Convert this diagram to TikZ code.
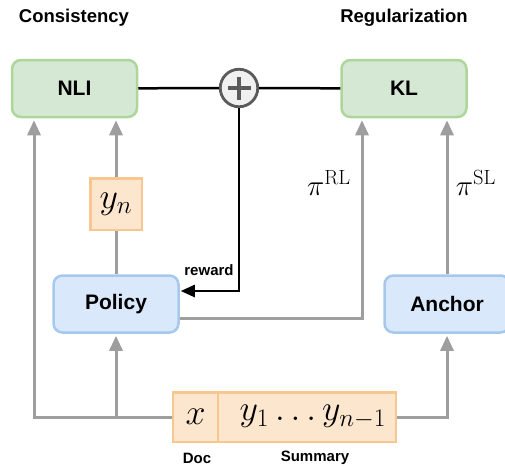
\RequirePackage{fix-cm}
\documentclass[tikz,border=0pt]{standalone}
\usepackage[no-math]{fontspec}
\usepackage{graphicx}
\setmainfont{Liberation Sans}
\usetikzlibrary{arrows.meta}
\DeclareMathSizes{27}{27}{19}{14}
\definecolor{gfill}{HTML}{D5E8D4}
\definecolor{gdraw}{HTML}{ADD69B}
\definecolor{bfill}{HTML}{DAE8FC}
\definecolor{bdraw}{HTML}{A6C8EC}
\definecolor{ofill}{HTML}{FDE6CE}
\definecolor{odraw}{HTML}{F8C78F}
\definecolor{linegray}{HTML}{9E9E9E}
\definecolor{plusgray}{HTML}{5A5A5A}
\definecolor{plusfill}{HTML}{F0F0F0}
\newcommand{\boxmathscale}[1]{\scalebox{1.33}{#1}}
\begin{document}
\begin{tikzpicture}[x=1pt,y=-1pt,
  box/.style={rounded corners=9pt, line width=2.5pt, minimum width=125pt, minimum height=57pt,
    font=\fontsize{21}{24}\selectfont\bfseries, inner sep=0pt},
  gbox/.style={box, fill=gfill, draw=gdraw},
  bbox/.style={box, fill=bfill, draw=bdraw},
  obox/.style={fill=ofill, draw=odraw, line width=2.5pt, inner sep=0pt,
    font=\fontsize{27}{29}\selectfont},
  grayline/.style={draw=linegray, line width=3pt},
  grayarrow/.style={grayline, -{Triangle[width=13pt,length=15pt]}, shorten >=2pt},
  blackline/.style={draw=black, line width=2.5pt},
  blackarrow/.style={blackline, -{Triangle[width=12pt,length=14pt]}, shorten >=1pt},
  head/.style={font=\fontsize{18.5}{20}\selectfont\bfseries},
  small/.style={font=\fontsize{15}{17}\selectfont\bfseries},
  mathlbl/.style={font=\fontsize{27}{29}\selectfont, inner sep=0pt},
  plusbar/.style={draw=plusgray, line width=3.2pt}]
\useasboundingbox (0,0) rectangle (505,466);

% headers
\node[head] (hcons) at (74,18) {Consistency};
\node[head] (hreg) at (404,18) {Regularization};

% boxes
\node[gbox] (nli) at (74.5,88.5) {NLI};
\node[gbox] (kl) at (404,88.5) {KL};
\node[bbox] (pol) at (116,304) {Policy};
\node[bbox] (anc) at (447,304) {Anchor};
\node[obox, minimum size=51.5pt] (yn) at (116,204) {\boxmathscale{$y_n$}};
\node[obox, minimum width=44.75pt, minimum height=49.5pt] (xc) at (195.6,417) {\boxmathscale{$x$}};
\node[obox, minimum width=177.75pt, minimum height=49.5pt] (yc) at (306.9,417) {\hspace*{12pt}\boxmathscale{$y_1\ldots y_{n-1}$}};

% sum node
\node[circle, draw=plusgray, fill=plusfill, line width=2.8pt, minimum size=37.5pt, inner sep=0pt] (sum) at (239,88) {};
\draw[plusbar] ([xshift=-11.5pt]sum.center) -- ([xshift=11.5pt]sum.center);
\draw[plusbar] ([yshift=-11.5pt]sum.center) -- ([yshift=11.5pt]sum.center);

% labels
\node[small] (rw) at (209,270) {reward};
\node[small] (doc) at (197,458) {Doc};
\node[small] (sumlbl) at (315,458) {Summary};
\node[mathlbl] (pirl) at (329,183) {\scalebox{1.08}{$\pi^{\mathrm{RL}}$}};
\node[mathlbl] (pisl) at (476,183) {\scalebox{1.08}{$\pi^{\mathrm{SL}}$}};

% black connectors
\draw[blackline] (nli) -- (sum);
\draw[blackline] (sum) -- (kl);
\draw[blackarrow] (sum.south) |- ([yshift=13pt]pol.east);

% gray connectors
\coordinate (j1) at (116,417);
\draw[grayarrow] (xc.west) -| ([xshift=-40.5pt]nli.south);
\draw[grayarrow] (j1) -- (pol.south);
\draw[grayline] (pol.north) -- (yn.south);
\draw[grayarrow] (yn.north) -- (yn.north |- nli.south);
\draw[grayarrow] ([yshift=-14pt]pol.east) -| ([xshift=-42pt]kl.south);
\draw[grayarrow] (anc.north) -- (anc.north |- kl.south);
\draw[grayarrow] (yc.east) -| (anc.south);
\end{tikzpicture}
\end{document}
